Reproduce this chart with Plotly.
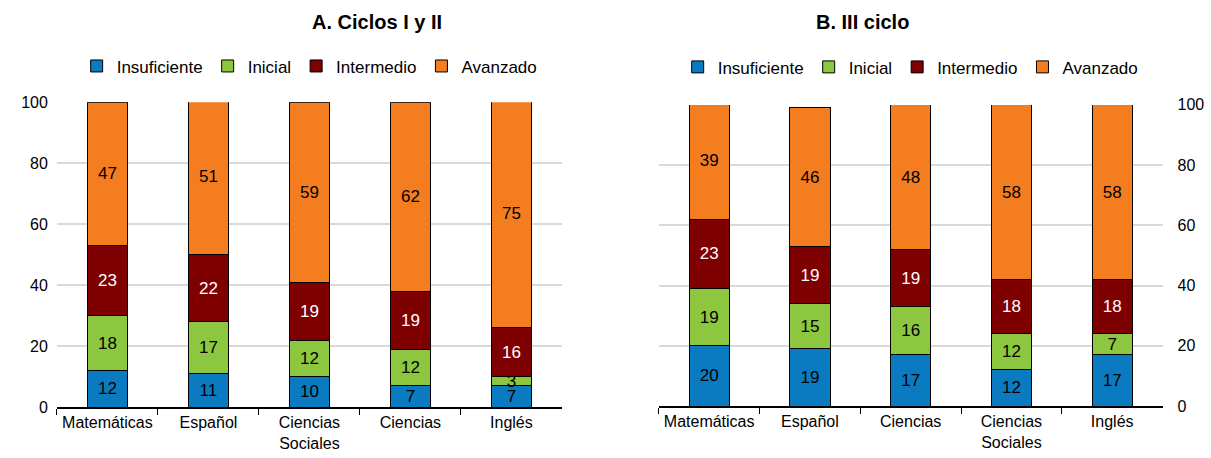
import plotly.graph_objects as go
from plotly.subplots import make_subplots

# --- datos ---
niveles = ["Insuficiente", "Inicial", "Intermedio", "Avanzado"]
colores = ["#0A7BC1", "#8DC63F", "#7F0000", "#F47D20"]
colores_texto = ["black", "black", "white", "black"]

# Panel A: Ciclos I y II
materias_a = ["Matemáticas", "Español", "Ciencias<br>Sociales", "Ciencias", "Inglés"]
insuficiente_a = [12, 11, 10, 7, 7]
inicial_a = [18, 17, 12, 12, 3]
intermedio_a = [23, 22, 19, 19, 16]
avanzado_a = [47, 51, 59, 62, 75]

# Panel B: III ciclo
materias_b = ["Matemáticas", "Español", "Ciencias", "Ciencias<br>Sociales", "Inglés"]
insuficiente_b = [20, 19, 17, 12, 17]
inicial_b = [19, 15, 16, 12, 7]
intermedio_b = [23, 19, 19, 18, 18]
avanzado_b = [39, 46, 48, 58, 58]

valores_a = [insuficiente_a, inicial_a, intermedio_a, avanzado_a]
valores_b = [insuficiente_b, inicial_b, intermedio_b, avanzado_b]

FONT = "Liberation Sans, Arial"

fig = make_subplots(rows=1, cols=2)

for col, (materias, valores, leg) in enumerate(
        [(materias_a, valores_a, "legend"), (materias_b, valores_b, "legend2")], start=1):
    for nivel, vals, c, tc in zip(niveles, valores, colores, colores_texto):
        fig.add_trace(go.Bar(
            x=materias, y=vals, name=nivel,
            marker=dict(color=c, line=dict(color="black", width=1)),
            text=vals, textposition="inside", insidetextanchor="middle",
            textangle=0, textfont=dict(color=tc, size=17, family=FONT),
            width=0.4, legend=leg,
        ), row=1, col=col)

eje_x = dict(showline=True, linecolor="black", linewidth=1.5, ticks="outside",
             tickson="boundaries", ticklen=6, tickcolor="black", tickangle=0,
             automargin=False, tickfont=dict(size=16, family=FONT, color="black"))
eje_y = dict(range=[0, 100], dtick=20, showgrid=True, gridcolor="#D9D9D9",
             gridwidth=1.5, zeroline=False, showline=False, automargin=False,
             tickfont=dict(size=16, family=FONT, color="black"))

fig.update_layout(
    barmode="stack",
    width=1211, height=458,
    margin=dict(l=0, r=0, t=0, b=0),
    plot_bgcolor="white", paper_bgcolor="white",
    font=dict(family=FONT, color="black"),
    uniformtext=dict(minsize=17, mode="show"),
    xaxis=dict(domain=[0.047, 0.464], **eje_x),
    xaxis2=dict(domain=[0.544, 0.960], **eje_x),
    yaxis=dict(domain=[0.111, 0.777], ticklabelstandoff=8, **eje_y),
    yaxis2=dict(domain=[0.1135, 0.771], side="right", ticklabelstandoff=14, **eje_y),
    legend=dict(orientation="h", x=0.2557, xanchor="center", y=0.855, yanchor="middle",
                traceorder="normal", font=dict(size=17, family=FONT)),
    legend2=dict(orientation="h", x=0.752, xanchor="center", y=0.853, yanchor="middle",
                 traceorder="normal", font=dict(size=17, family=FONT)),
    annotations=[
        dict(text="<b>A. Ciclos I y II</b>", x=0.2557, y=0.952, xref="paper", yref="paper",
             yanchor="middle", showarrow=False, font=dict(size=20, family=FONT)),
        dict(text="<b>B. III ciclo</b>", x=0.752, y=0.952, xref="paper", yref="paper",
             yanchor="middle", showarrow=False, font=dict(size=20, family=FONT)),
    ],
)

# quitar el margen por defecto del <body> para que el gráfico quede en 0,0
fig.write_html("out.html", config={"displayModeBar": False},
               post_script="document.body.style.margin='0';")
